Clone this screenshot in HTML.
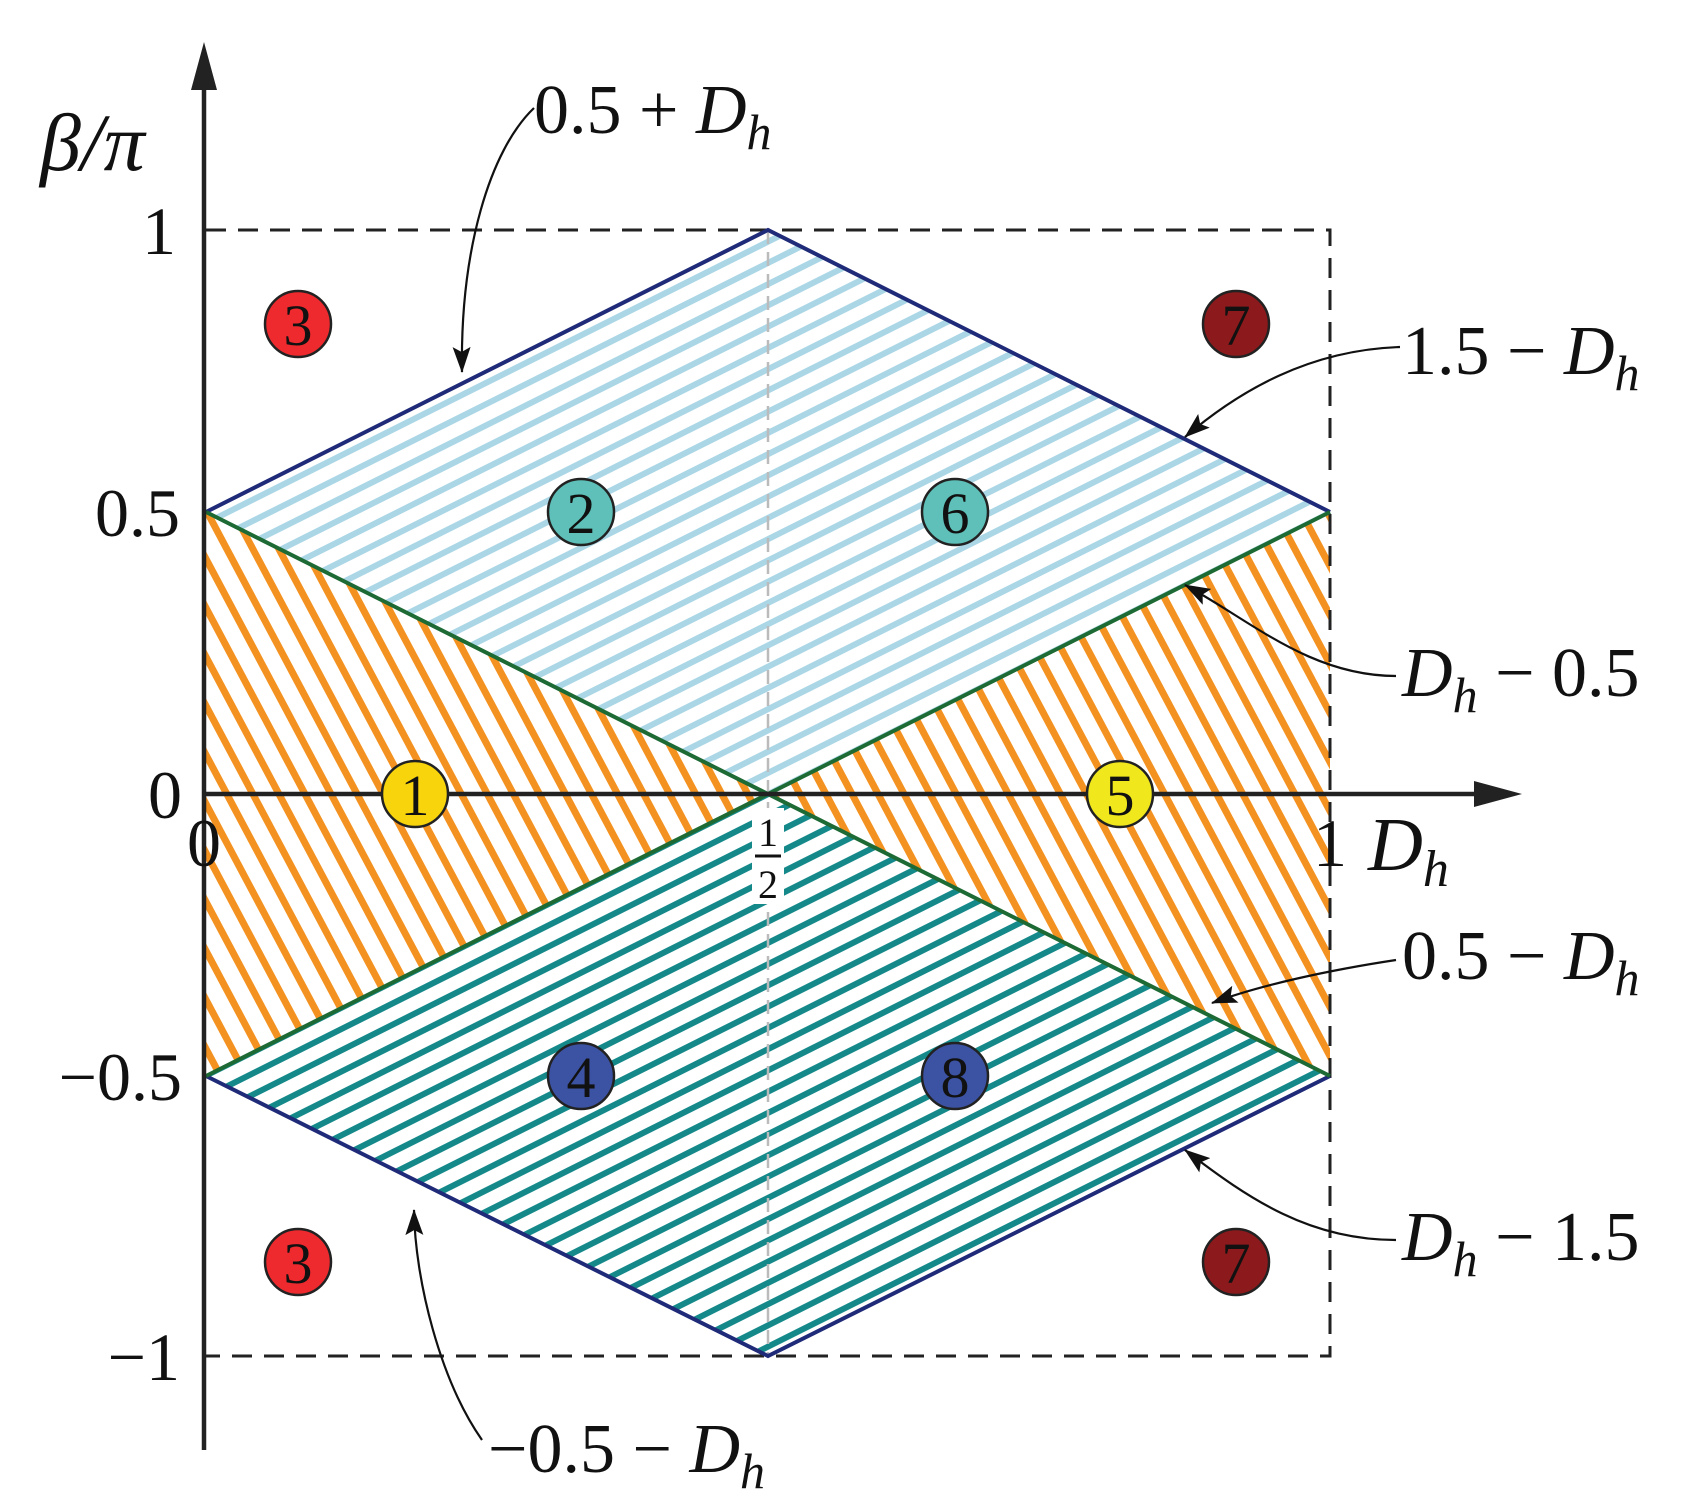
<!DOCTYPE html>
<html><head><meta charset="utf-8"><style>
html,body{margin:0;padding:0;background:#fff}
svg{display:block}
text{font-family:"Liberation Serif",serif;fill:#111}
</style></head><body>
<svg width="1690" height="1494" viewBox="0 0 1690 1494" xmlns="http://www.w3.org/2000/svg">
<defs>
<pattern id="pb" width="40" height="19" patternUnits="userSpaceOnUse" patternTransform="rotate(-26.6)">
<rect width="40" height="19" fill="#fff"/><rect y="6" width="40" height="6" fill="#aad6e6"/></pattern>
<pattern id="pt" width="40" height="19" patternUnits="userSpaceOnUse" patternTransform="rotate(-26.6)">
<rect width="40" height="19" fill="#fff"/><rect y="6" width="40" height="6" fill="#15898a"/></pattern>
<pattern id="po" width="40" height="23" patternUnits="userSpaceOnUse" patternTransform="rotate(62)">
<rect width="40" height="23" fill="#fff"/><rect y="8" width="40" height="7" fill="#f39220"/></pattern>
<marker id="ah" markerWidth="26" markerHeight="18" refX="25" refY="9" orient="auto" markerUnits="userSpaceOnUse" viewBox="0 0 26 18">
<path d="M0,0 L26,9 L0,18 L5,9 z" fill="#111"/></marker>
</defs>
<polygon points="206,512 768,230 1330,512 768,794" fill="url(#pb)"/>
<polygon points="206,1076 768,794 1330,1076 768,1356" fill="url(#pt)"/>
<polygon points="206,512 768,794 206,1076" fill="url(#po)"/>
<polygon points="1330,512 768,794 1330,1076" fill="url(#po)"/>
<path d="M206,230 H1330 V1356 H206" fill="none" stroke="#222" stroke-width="3" stroke-dasharray="20,12"/>
<line x1="768" y1="230" x2="768" y2="1356" stroke="#bbb" stroke-width="2.5" stroke-dasharray="14,8"/>
<polyline points="206,512 768,230 1330,512" fill="none" stroke="#1f2b78" stroke-width="4"/>
<polyline points="206,1076 768,1356 1330,1076" fill="none" stroke="#1f2b78" stroke-width="4"/>
<line x1="206" y1="512" x2="1330" y2="1076" stroke="#1d6a35" stroke-width="4"/>
<line x1="206" y1="1076" x2="1330" y2="512" stroke="#1d6a35" stroke-width="4"/>
<line x1="204" y1="1450" x2="204" y2="85" stroke="#222" stroke-width="4.5"/>
<polygon points="204,42 191,90 217,90" fill="#222"/>
<line x1="204" y1="794" x2="1480" y2="794" stroke="#222" stroke-width="4.5"/>
<polygon points="1522,794 1474,781 1474,807" fill="#222"/>
<g font-size="68">
<text x="176" y="254" text-anchor="end">1</text>
<text x="180" y="536" text-anchor="end">0.5</text>
<text x="182" y="818" text-anchor="end">0</text>
<text x="182" y="1100" text-anchor="end">−0.5</text>
<text x="180" y="1380" text-anchor="end">−1</text>
<text x="204" y="866" text-anchor="middle">0</text>
<text x="1330" y="866" text-anchor="middle">1</text>
</g>
<rect x="752" y="808" width="32" height="96" fill="#fff"/>
<text x="768" y="846" text-anchor="middle" font-size="40">1</text>
<line x1="755" y1="856" x2="781" y2="856" stroke="#111" stroke-width="3"/>
<text x="768" y="898" text-anchor="middle" font-size="40">2</text>
<text x="40" y="170" font-size="82" font-style="italic">β/π</text>
<text x="1368" y="870" font-size="76" font-style="italic">D<tspan font-size="52" dy="16">h</tspan></text>
<g font-size="70">
<text x="534" y="133">0.5 + <tspan font-style="italic">D</tspan><tspan font-style="italic" font-size="50" dy="16">h</tspan></text>
<text x="1402" y="374">1.5 − <tspan font-style="italic">D</tspan><tspan font-style="italic" font-size="50" dy="16">h</tspan></text>
<text x="1402" y="696"><tspan font-style="italic">D</tspan><tspan font-style="italic" font-size="50" dy="16">h</tspan><tspan dy="-16"> − 0.5</tspan></text>
<text x="1402" y="979">0.5 − <tspan font-style="italic">D</tspan><tspan font-style="italic" font-size="50" dy="16">h</tspan></text>
<text x="1402" y="1260"><tspan font-style="italic">D</tspan><tspan font-style="italic" font-size="50" dy="16">h</tspan><tspan dy="-16"> − 1.5</tspan></text>
<text x="488" y="1472">−0.5 − <tspan font-style="italic">D</tspan><tspan font-style="italic" font-size="50" dy="16">h</tspan></text>
</g>
<g fill="none" stroke="#111" stroke-width="2.2" marker-end="url(#ah)">
<path d="M534,108 C490,150 460,250 462,372"/>
<path d="M1400,347 C1310,350 1240,390 1185,437"/>
<path d="M1396,676 C1310,676 1250,620 1185,585"/>
<path d="M1396,960 C1330,970 1260,985 1212,1003"/>
<path d="M1396,1240 C1310,1240 1250,1200 1185,1150"/>
<path d="M482,1440 C440,1380 415,1280 414,1210"/>
</g>
<g stroke="#222" stroke-width="2.5" font-size="58" text-anchor="middle">
<circle cx="298" cy="324" r="33" fill="#ee2a2e"/><text x="298" y="345" fill="#fff" stroke="none">3</text>
<circle cx="1236" cy="324" r="33" fill="#8c1a1c"/><text x="1236" y="345" fill="#fff" stroke="none">7</text>
<circle cx="581" cy="512" r="33" fill="#5ec0b8"/><text x="581" y="533" stroke="none">2</text>
<circle cx="955" cy="512" r="33" fill="#5ec0b8"/><text x="955" y="533" stroke="none">6</text>
<circle cx="415" cy="794" r="33" fill="#f7d40c"/><text x="415" y="815" stroke="none">1</text>
<circle cx="1120" cy="794" r="33" fill="#f0e81c"/><text x="1120" y="815" stroke="none">5</text>
<circle cx="581" cy="1076" r="33" fill="#3c53a4"/><text x="581" y="1097" fill="#fff" stroke="none">4</text>
<circle cx="955" cy="1076" r="33" fill="#3c53a4"/><text x="955" y="1097" fill="#fff" stroke="none">8</text>
<circle cx="298" cy="1262" r="33" fill="#ee2a2e"/><text x="298" y="1283" fill="#fff" stroke="none">3</text>
<circle cx="1236" cy="1262" r="33" fill="#8c1a1c"/><text x="1236" y="1283" fill="#fff" stroke="none">7</text>
</g>
</svg>
</body></html>
